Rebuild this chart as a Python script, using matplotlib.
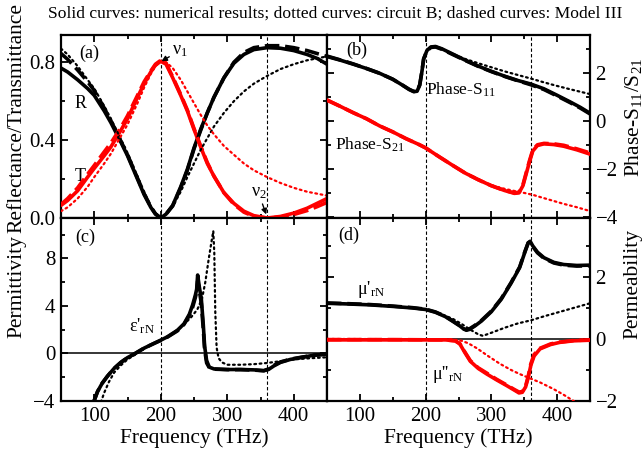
import numpy as np
import matplotlib
matplotlib.use("Agg")
import matplotlib.pyplot as plt
from matplotlib.ticker import MultipleLocator

plt.rcParams['font.family'] = ['Liberation Serif', 'DejaVu Serif']
plt.rcParams['mathtext.fontset'] = 'custom'
plt.rcParams['mathtext.rm'] = 'Liberation Serif'
plt.rcParams['mathtext.it'] = 'Liberation Serif:italic'
plt.rcParams['mathtext.default'] = 'regular'

# ---- (a) reflectance / transmittance ----
f_rt = [50, 60, 75, 90, 100, 115, 125, 140, 150, 165, 175, 185, 192, 200, 208, 218,
        230, 240, 250, 260, 270, 280, 295, 310, 325, 340, 360, 380, 400, 420, 435, 450]
R_num = [0.77, 0.75, 0.71, 0.665, 0.63, 0.55, 0.49, 0.39, 0.32, 0.20, 0.12, 0.055, 0.02, 0.0, 0.02, 0.065,
         0.16, 0.25, 0.36, 0.455, 0.54, 0.62, 0.72, 0.795, 0.84, 0.865, 0.875, 0.872, 0.86, 0.84, 0.82, 0.79]
R_mod = [0.845, 0.815, 0.76, 0.70, 0.655, 0.565, 0.50, 0.395, 0.325, 0.205, 0.125, 0.058, 0.022, 0.0, 0.02, 0.062,
         0.155, 0.245, 0.355, 0.45, 0.54, 0.62, 0.72, 0.80, 0.85, 0.875, 0.885, 0.885, 0.875, 0.86, 0.845, 0.83]
R_cir = [0.87, 0.84, 0.78, 0.71, 0.665, 0.575, 0.51, 0.405, 0.335, 0.215, 0.135, 0.06, 0.025, 0.0, 0.02, 0.06,
         0.135, 0.21, 0.28, 0.35, 0.41, 0.47, 0.54, 0.60, 0.65, 0.69, 0.73, 0.765, 0.79, 0.81, 0.82, 0.83]
T_num = [0.065, 0.09, 0.14, 0.21, 0.255, 0.32, 0.365, 0.45, 0.51, 0.62, 0.69, 0.75, 0.785, 0.805, 0.79, 0.72,
         0.63, 0.55, 0.455, 0.365, 0.28, 0.215, 0.13, 0.075, 0.035, 0.012, 0.0, 0.008, 0.025, 0.05, 0.075, 0.10]
T_mod = [0.07, 0.10, 0.155, 0.225, 0.27, 0.34, 0.385, 0.465, 0.525, 0.63, 0.70, 0.755, 0.79, 0.81, 0.795, 0.725,
         0.635, 0.555, 0.46, 0.37, 0.285, 0.215, 0.13, 0.07, 0.03, 0.008, 0.0, 0.005, 0.018, 0.038, 0.058, 0.08]
T_cir = [0.035, 0.055, 0.10, 0.16, 0.21, 0.28, 0.33, 0.42, 0.48, 0.59, 0.67, 0.74, 0.78, 0.805, 0.80, 0.77,
         0.71, 0.65, 0.59, 0.53, 0.475, 0.43, 0.37, 0.325, 0.28, 0.245, 0.21, 0.18, 0.155, 0.135, 0.125, 0.115]

# ---- (b) phases ----
f_s11 = [50, 70, 90, 110, 130, 150, 165, 175, 182, 187, 191, 194, 197, 202, 208, 215, 225, 240,
         260, 280, 300, 320, 340, 360, 380, 400, 420, 435, 450]
S11_num = [2.7, 2.55, 2.38, 2.2, 2.0, 1.75, 1.5, 1.32, 1.23, 1.25, 1.5, 2.0, 2.6, 2.95, 3.1, 3.12, 3.02, 2.82,
           2.55, 2.3, 2.08, 1.88, 1.7, 1.55, 1.35, 1.08, 0.8, 0.58, 0.33]
S11_mod = [2.72, 2.56, 2.39, 2.2, 2.0, 1.75, 1.5, 1.33, 1.24, 1.27, 1.52, 2.02, 2.6, 2.94, 3.08, 3.1, 3.0, 2.8,
           2.54, 2.29, 2.07, 1.87, 1.69, 1.52, 1.32, 1.05, 0.77, 0.55, 0.3]
S11_cir = [2.7, 2.55, 2.38, 2.2, 2.0, 1.75, 1.5, 1.32, 1.23, 1.25, 1.5, 2.0, 2.6, 2.95, 3.1, 3.12, 3.02, 2.82,
           2.6, 2.42, 2.25, 2.08, 1.93, 1.78, 1.62, 1.47, 1.33, 1.23, 1.13]
f_s21 = [50, 70, 90, 110, 130, 150, 170, 190, 200, 220, 240, 260, 280, 300, 320, 335, 342, 348, 353,
         358, 363, 370, 380, 395, 410, 430, 450]
S21_num = [0.88, 0.62, 0.35, 0.1, -0.2, -0.45, -0.73, -0.98, -1.12, -1.48, -1.83, -2.17, -2.45, -2.7, -2.9,
           -3.02, -3.0, -2.7, -2.2, -1.7, -1.25, -1.02, -0.95, -0.98, -1.05, -1.2, -1.38]
S21_mod = [0.88, 0.62, 0.35, 0.1, -0.2, -0.45, -0.73, -0.98, -1.12, -1.48, -1.83, -2.17, -2.45, -2.7, -2.9,
           -3.0, -2.97, -2.66, -2.15, -1.65, -1.2, -0.99, -0.93, -0.95, -1.01, -1.16, -1.33]
S21_cir = [0.88, 0.62, 0.35, 0.1, -0.2, -0.45, -0.73, -0.98, -1.12, -1.48, -1.83, -2.15, -2.42, -2.68, -2.83,
           -2.92, -2.95, -2.99, -3.02, -3.05, -3.08, -3.14, -3.22, -3.34, -3.46, -3.6, -3.76]

# ---- (c) permittivity ----
f_eps = [99, 105, 112, 120, 130, 140, 150, 160, 166, 175, 190, 200, 210, 225, 235, 243, 248, 252, 254,
         255.5, 257, 258, 261, 264, 266, 269, 273, 280, 300, 320, 340, 355, 362, 370, 380, 395, 410, 430, 450]
eps_num = [-4.1, -3.2, -2.5, -1.9, -1.25, -0.75, -0.35, -0.05, 0.15, 0.45, 0.85, 1.12, 1.4, 1.95, 2.5, 3.3,
           4.1, 4.9, 5.4, 6.6, 6.0, 5.6, 4.6, 2.4, 0.6, -0.6, -1.15, -1.3, -1.35, -1.35, -1.38, -1.45, -1.35,
           -1.05, -0.75, -0.5, -0.35, -0.15, -0.05]
eps_mod = [-4.1, -3.2, -2.5, -1.9, -1.25, -0.75, -0.35, -0.05, 0.15, 0.45, 0.85, 1.1, 1.38, 1.9, 2.45, 3.2,
           3.9, 4.7, 5.2, 6.1, 5.7, 5.3, 4.2, 2.0, 0.3, -0.8, -1.2, -1.32, -1.36, -1.36, -1.4, -1.45, -1.3,
           -1.0, -0.72, -0.48, -0.33, -0.15, -0.06]
f_eps_c = [110, 115, 122, 130, 140, 150, 160, 166, 175, 190, 200, 215, 230, 245, 255, 262, 267, 272, 276,
           279, 280.5, 282, 284, 287, 292, 300, 320, 340, 360, 380, 400, 425, 450]
eps_cir = [-4.1, -3.3, -2.4, -1.6, -1.0, -0.5, -0.15, 0.05, 0.4, 0.85, 1.1, 1.55, 2.2, 3.0, 3.7, 4.6, 6.0,
           7.9, 9.3, 10.3, 8.5, 3.5, 0.5, -0.4, -0.75, -0.95, -0.95, -0.9, -0.8, -0.65, -0.5, -0.4, -0.32]

# ---- (d) permeability ----
f_mu = [50, 80, 115, 150, 180, 200, 215, 230, 242, 252, 258, 262, 267, 275, 285, 300, 315, 330, 343,
        351, 356, 359, 363, 370, 380, 395, 410, 430, 450]
mu1_num = [1.15, 1.13, 1.1, 1.05, 1.0, 0.95, 0.86, 0.72, 0.56, 0.42, 0.32, 0.28, 0.31, 0.42, 0.58, 0.88,
           1.28, 1.8, 2.3, 2.8, 3.1, 3.15, 3.0, 2.8, 2.62, 2.47, 2.4, 2.37, 2.38]
mu1_mod = [1.16, 1.14, 1.11, 1.06, 1.01, 0.96, 0.87, 0.73, 0.57, 0.43, 0.33, 0.3, 0.33, 0.44, 0.6, 0.9,
           1.3, 1.82, 2.32, 2.82, 3.1, 3.13, 2.98, 2.78, 2.6, 2.45, 2.38, 2.35, 2.36]
f_mu_c = [50, 80, 115, 150, 180, 200, 215, 230, 242, 255, 268, 280, 287, 300, 320, 340, 360, 380, 400, 425, 450]
mu1_cir = [1.15, 1.13, 1.1, 1.05, 1.0, 0.95, 0.87, 0.75, 0.64, 0.48, 0.3, 0.15, 0.1, 0.2, 0.36, 0.5, 0.6,
           0.73, 0.85, 1.0, 1.15]
f_mu2 = [50, 150, 230, 245, 252, 260, 268, 280, 293, 308, 323, 335, 342, 347, 352, 356, 360, 365, 374,
         390, 404, 425, 450]
mu2_num = [-0.03, -0.03, -0.03, -0.06, -0.16, -0.45, -0.72, -0.95, -1.13, -1.32, -1.5, -1.65, -1.74, -1.72,
           -1.55, -1.25, -0.85, -0.55, -0.32, -0.18, -0.11, -0.06, -0.04]
mu2_mod = [-0.02, -0.02, -0.03, -0.06, -0.15, -0.43, -0.7, -0.93, -1.1, -1.3, -1.48, -1.63, -1.71, -1.7,
           -1.52, -1.2, -0.8, -0.5, -0.3, -0.16, -0.1, -0.05, -0.03]
f_mu2_c = [50, 240, 255, 265, 278, 295, 313, 330, 343, 360, 374, 395, 410, 425, 440]
mu2_cir = [0.0, -0.01, -0.06, -0.14, -0.3, -0.55, -0.8, -1.0, -1.13, -1.28, -1.4, -1.62, -1.8, -2.0, -2.2]

nu_lines = [200, 360]

RED = '#ff0000'
LW = 2.6
DASH = (0, (4, 1.6))
DOT = (0, (0.8, 1.6))

fig = plt.figure(figsize=(6.44, 4.57), dpi=100)
x0, xm, x1 = 61 / 644, 327 / 644, 590 / 644
y_top, y_mid, y_bot = 1 - 35 / 457, 1 - 218 / 457, 1 - 401 / 457
w1, w2 = xm - x0, x1 - xm
h1, h2 = y_top - y_mid, y_mid - y_bot
ax_a = fig.add_axes([x0, y_mid, w1, h1])
ax_b = fig.add_axes([xm, y_mid, w2, h1])
ax_c = fig.add_axes([x0, y_bot, w1, h2])
ax_d = fig.add_axes([xm, y_bot, w2, h2])


def trio(ax, f, num, mod, cir, color, fc=None):
    # solid = numerical, dashed = Model III, dotted = circuit B
    if fc is None:
        fc = f
    ax.plot(f, num, color=color, lw=LW, solid_capstyle='round', zorder=3)
    ax.plot(f, mod, color=color, lw=LW, ls=DASH, zorder=4)
    ax.plot(fc, cir, color=color, lw=1.6, ls=DOT, dash_capstyle='round', zorder=5)


trio(ax_a, f_rt, R_num, R_mod, R_cir, 'black')
trio(ax_a, f_rt, T_num, T_mod, T_cir, RED)
trio(ax_b, f_s11, S11_num, S11_mod, S11_cir, 'black')
trio(ax_b, f_s21, S21_num, S21_mod, S21_cir, RED)
trio(ax_c, f_eps, eps_num, eps_mod, eps_cir, 'black', f_eps_c)
trio(ax_d, f_mu, mu1_num, mu1_mod, mu1_cir, 'black', f_mu_c)
trio(ax_d, f_mu2, mu2_num, mu2_mod, mu2_cir, RED, f_mu2_c)

ax_a.set_ylim(0, 0.94)
ax_b.set_ylim(-4.05, 3.6)
ax_c.set_ylim(-4, 11.4)
ax_d.set_ylim(-2, 3.9)
ax_c.axhline(0, color='black', lw=1.1, zorder=2)
ax_d.axhline(0, color='black', lw=1.1, zorder=2)

majors = {ax_a: (0.4, 0.2), ax_b: (2, 1), ax_c: (4, 2), ax_d: (2, 1)}
for ax in (ax_a, ax_b, ax_c, ax_d):
    ax.set_xlim(50, 450)
    for v in nu_lines:
        ax.axvline(v, color='black', lw=0.8, ls=(0, (3, 2)), zorder=1)
    ax.xaxis.set_major_locator(MultipleLocator(100))
    ax.xaxis.set_minor_locator(MultipleLocator(50))
    mj, mn = majors[ax]
    ax.yaxis.set_major_locator(MultipleLocator(mj))
    ax.yaxis.set_minor_locator(MultipleLocator(mn))
    ax.tick_params(which='both', direction='in', top=True, bottom=True, left=True, right=True,
                   labelsize=15, width=1.3, pad=4)
    ax.tick_params(which='major', length=5)
    ax.tick_params(which='minor', length=3)
    for s in ax.spines.values():
        s.set_linewidth(1.6)

ax_a.yaxis.set_major_formatter(plt.FormatStrFormatter('%.1f'))
for ax in (ax_a, ax_b):
    ax.tick_params(labelbottom=False)
for ax in (ax_b, ax_d):
    ax.tick_params(labelleft=False, labelright=True)
for ax in (ax_c, ax_d):
    ax.set_xlabel('Frequency (THz)', fontsize=15.5, labelpad=2)

# panel labels and curve names
ax_a.text(93, 0.845, '(a)', fontsize=13, ha='center', va='center')
ax_a.text(79, 0.59, 'R', fontsize=13, ha='center', va='center')
ax_a.text(79, 0.215, 'T', fontsize=13, ha='center', va='center')
ax_a.annotate('ν$_1$', xy=(201, 0.805), xytext=(217, 0.86), fontsize=13, ha='left', va='center',
              arrowprops=dict(arrowstyle='-|>', color='black', lw=1.0, mutation_scale=8,
                              shrinkA=0, shrinkB=0))
ax_a.annotate('ν$_2$', xy=(360, 0.005), xytext=(335, 0.13), fontsize=13, ha='left', va='center',
              arrowprops=dict(arrowstyle='-|>', color='black', lw=1.0, mutation_scale=8,
                              shrinkA=0, shrinkB=2))
ax_b.text(96, 2.94, '(b)', fontsize=13, ha='center', va='center')
ax_b.text(201, 1.3, 'Phase-S$_{11}$', fontsize=12.5, ha='left', va='center')
ax_b.text(62, -1.0, 'Phase-S$_{21}$', fontsize=12.5, ha='left', va='center')
ax_c.text(86, 9.8, '(c)', fontsize=13, ha='center', va='center')
ax_c.text(153, 2.3, "ε'$_{rN}$", fontsize=13, ha='left', va='center')
ax_d.text(83, 3.33, '(d)', fontsize=13, ha='center', va='center')
ax_d.text(95, 1.6, "μ'$_{rN}$", fontsize=13, ha='left', va='center')
ax_d.text(209, -1.15, "μ''$_{rN}$", fontsize=13, ha='left', va='center')

fig.text(0.026, 1 - 118 / 457, 'Reflectance/Transmittance', rotation=90, fontsize=15.5,
         ha='center', va='center')
fig.text(0.026, 1 - 287 / 457, 'Permittivity', rotation=90, fontsize=15.5, ha='center', va='center')
fig.text(0.983, 1 - 117 / 457, 'Phase-S$_{11}$/S$_{21}$', rotation=90, fontsize=15.5,
         ha='center', va='center')
fig.text(0.983, 1 - 284 / 457, 'Permeability', rotation=90, fontsize=15.5, ha='center', va='center')
fig.text(0.52, 1 - 14 / 457,
         'Solid curves: numerical results; dotted curves: circuit B; dashed curves: Model III',
         fontsize=12.6, ha='center', va='center')

fig.savefig('out.png', dpi=100)
